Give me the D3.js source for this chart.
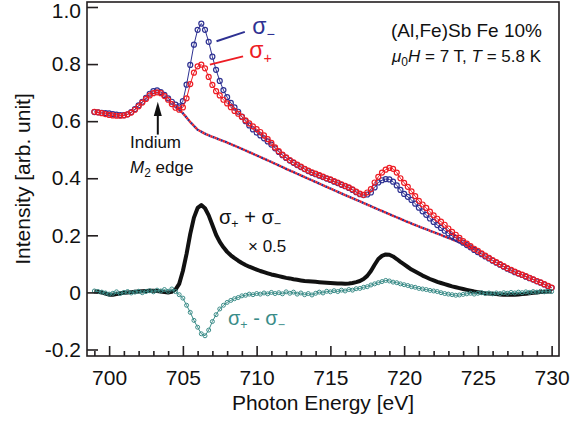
<!DOCTYPE html>
<html>
<head>
<meta charset="utf-8">
<script src="https://cdn.jsdelivr.net/npm/d3@7"></script>
<style>
  body { margin: 0; background: #fff; }
  svg text { font-family: "Liberation Sans", Arial, Helvetica, sans-serif; }
</style>
</head>
<body>
<div id="chart"></div>
<script>
// photon energy grid (eV)
const energy = [
  699, 699.25, 699.5, 699.75, 700, 700.25, 700.5, 700.75, 701, 701.25, 701.5, 701.75,
  702, 702.25, 702.5, 702.75, 703, 703.25, 703.5, 703.75, 704, 704.25, 704.5, 704.75,
  705, 705.25, 705.5, 705.75, 706, 706.25, 706.5, 706.75, 707, 707.25, 707.5, 707.75,
  708, 708.25, 708.5, 708.75, 709, 709.25, 709.5, 709.75, 710, 710.25, 710.5, 710.75,
  711, 711.25, 711.5, 711.75, 712, 712.25, 712.5, 712.75, 713, 713.25, 713.5, 713.75,
  714, 714.25, 714.5, 714.75, 715, 715.25, 715.5, 715.75, 716, 716.25, 716.5, 716.75,
  717, 717.25, 717.5, 717.75, 718, 718.25, 718.5, 718.75, 719, 719.25, 719.5, 719.75,
  720, 720.25, 720.5, 720.75, 721, 721.25, 721.5, 721.75, 722, 722.25, 722.5, 722.75,
  723, 723.25, 723.5, 723.75, 724, 724.25, 724.5, 724.75, 725, 725.25, 725.5, 725.75,
  726, 726.25, 726.5, 726.75, 727, 727.25, 727.5, 727.75, 728, 728.25, 728.5, 728.75,
  729, 729.25, 729.5, 729.75, 730
];

// sigma minus (blue)
const sigmaMinus = [
  0.632, 0.631, 0.629, 0.628, 0.627, 0.625, 0.623, 0.621, 0.621, 0.624, 0.632, 0.642,
  0.655, 0.668, 0.682, 0.696, 0.705, 0.708, 0.702, 0.692, 0.680, 0.668, 0.658, 0.652,
  0.670, 0.728, 0.797, 0.868, 0.920, 0.942, 0.920, 0.878, 0.826, 0.780, 0.741, 0.709,
  0.684, 0.664, 0.648, 0.633, 0.616, 0.600, 0.585, 0.571, 0.560, 0.550, 0.540, 0.529,
  0.518, 0.505, 0.492, 0.481, 0.471, 0.462, 0.454, 0.446, 0.439, 0.432, 0.425, 0.419,
  0.414, 0.409, 0.404, 0.399, 0.394, 0.388, 0.383, 0.377, 0.372, 0.366, 0.359, 0.351,
  0.344, 0.341, 0.343, 0.350, 0.368, 0.385, 0.393, 0.397, 0.396, 0.388, 0.375, 0.359,
  0.345, 0.335, 0.324, 0.311, 0.297, 0.284, 0.272, 0.259, 0.247, 0.236, 0.226, 0.216,
  0.207, 0.198, 0.191, 0.183, 0.174, 0.166, 0.158, 0.149, 0.141, 0.134, 0.126, 0.119,
  0.111, 0.104, 0.097, 0.090, 0.083, 0.077, 0.071, 0.066, 0.061, 0.055, 0.050, 0.045,
  0.039, 0.034, 0.028, 0.022, 0.016
];

// sigma plus (red)
const sigmaPlus = [
  0.633, 0.631, 0.628, 0.625, 0.622, 0.620, 0.619, 0.619, 0.620, 0.624, 0.630, 0.640,
  0.652, 0.665, 0.678, 0.690, 0.698, 0.701, 0.698, 0.688, 0.675, 0.660, 0.647, 0.640,
  0.648, 0.680, 0.730, 0.770, 0.792, 0.798, 0.785, 0.755, 0.727, 0.705, 0.690, 0.675,
  0.662, 0.649, 0.636, 0.626, 0.615, 0.603, 0.592, 0.582, 0.572, 0.562, 0.550, 0.537,
  0.524, 0.508, 0.495, 0.483, 0.473, 0.464, 0.456, 0.448, 0.441, 0.433, 0.427, 0.421,
  0.416, 0.411, 0.406, 0.400, 0.396, 0.390, 0.385, 0.379, 0.373, 0.368, 0.361, 0.353,
  0.346, 0.342, 0.350, 0.362, 0.385, 0.405, 0.420, 0.430, 0.436, 0.433, 0.420, 0.400,
  0.384, 0.370, 0.354, 0.337, 0.321, 0.308, 0.296, 0.283, 0.270, 0.258, 0.248, 0.237,
  0.224, 0.212, 0.202, 0.191, 0.180, 0.171, 0.162, 0.153, 0.146, 0.137, 0.129, 0.121,
  0.113, 0.106, 0.099, 0.092, 0.085, 0.079, 0.073, 0.067, 0.062, 0.057, 0.051, 0.046,
  0.040, 0.035, 0.029, 0.023, 0.017
];

// (sigma+ + sigma-) x 0.5, background removed (black)
const sumSignal = [
  0.004, 0.002, 0.000, -0.004, -0.008, -0.008, -0.006, -0.003, -0.001, 0.000, 0.001, 0.002,
  0.003, 0.004, 0.005, 0.006, 0.006, 0.005, 0.003, 0.001, 0.000, 0.002, 0.010, 0.030,
  0.075, 0.135, 0.205, 0.262, 0.296, 0.306, 0.295, 0.270, 0.236, 0.202, 0.177, 0.158,
  0.142, 0.130, 0.120, 0.111, 0.103, 0.096, 0.090, 0.085, 0.080, 0.075, 0.071, 0.067,
  0.063, 0.060, 0.057, 0.054, 0.051, 0.049, 0.046, 0.044, 0.042, 0.040, 0.039, 0.038,
  0.037, 0.036, 0.035, 0.034, 0.033, 0.032, 0.031, 0.031, 0.030, 0.031, 0.033, 0.036,
  0.040, 0.047, 0.058, 0.075, 0.097, 0.117, 0.128, 0.133, 0.132, 0.126, 0.117, 0.107,
  0.098, 0.089, 0.080, 0.073, 0.066, 0.059, 0.053, 0.047, 0.042, 0.037, 0.033, 0.029,
  0.025, 0.021, 0.018, 0.015, 0.012, 0.009, 0.006, 0.003, 0.001, -0.001, -0.003, -0.004,
  -0.005, -0.006, -0.007, -0.008, -0.008, -0.008, -0.008, -0.007, -0.006, -0.005, -0.003, -0.001,
  0.000, 0.001, 0.002, 0.003, 0.003
];

// sigma+ - sigma- (teal)
const diffSignal = [
  0.005, 0.003, 0.001, -0.002, -0.006, -0.003, 0.002, -0.004, 0.000, 0.003, -0.002, 0.001,
  0.004, -0.001, 0.003, 0.006, 0.002, 0.008, 0.005, 0.010, 0.004, 0.012, 0.003, -0.008,
  -0.020, -0.045, -0.070, -0.098, -0.122, -0.145, -0.152, -0.132, -0.102, -0.078, -0.058, -0.045,
  -0.035, -0.028, -0.022, -0.018, -0.012, -0.010, -0.006, -0.008, -0.004, -0.006, -0.002, -0.005,
  0.000, -0.004, -0.001, -0.005, 0.002, -0.003, 0.001, -0.006, -0.002, -0.008, -0.004, -0.009,
  -0.003, 0.001, -0.002, 0.004, 0.002, 0.006, 0.003, 0.008, 0.005, 0.010, 0.008, 0.013,
  0.014, 0.018, 0.020, 0.026, 0.030, 0.034, 0.038, 0.042, 0.040, 0.036, 0.034, 0.030,
  0.027, 0.024, 0.020, 0.018, 0.014, 0.012, 0.010, 0.007, 0.005, 0.003, -0.001, -0.004,
  -0.006, -0.008, -0.010, -0.009, -0.007, -0.005, -0.003, -0.006, -0.003, -0.001, -0.004, -0.002,
  -0.005, -0.002, -0.004, -0.001, -0.003, 0.000, -0.002, 0.001, -0.001, 0.002, 0.000, 0.003,
  0.001, 0.004, 0.002, 0.004, 0.003
];

// step-like background under the sigma spectra (dotted)
const bgEnergy = [704.5, 705, 705.5, 706, 706.5, 707, 707.5, 708, 709, 710, 711, 712, 713,
  714, 715, 716, 717, 718, 719, 720, 721, 722, 723, 724, 725];
const bgValue = [0.650, 0.628, 0.597, 0.570, 0.556, 0.545, 0.535, 0.525, 0.503, 0.480, 0.457,
  0.433, 0.410, 0.387, 0.364, 0.341, 0.319, 0.296, 0.274, 0.252, 0.231, 0.211, 0.191, 0.170, 0.149];

const majorTicks = [700, 705, 710, 715, 720, 725, 730];
const minorTicks = [699, 701, 702, 703, 704, 706, 707, 708, 709, 711, 712, 713, 714, 716, 717,
  718, 719, 721, 722, 723, 724, 726, 727, 728, 729];
const yTicks = [-0.2, 0, 0.2, 0.4, 0.6, 0.8, 1.0];

const colors = { minus: "#2e3192", plus: "#ed1c24", sum: "#111111", diff: "#3a8c88", frame: "#231f20" };

const width = 570, height = 424;
const margin = { top: 2, right: 11, bottom: 68, left: 87 };

const svg = d3.select("#chart").append("svg")
  .attr("width", width)
  .attr("height", height);

const x = d3.scaleLinear().domain([698.5, 730.5]).range([margin.left, width - margin.right]);
const y = d3.scaleLinear().domain([-0.2228, 1.0175]).range([height - margin.bottom, margin.top]);

const pts = (ys, xs) => (xs || energy).map((e, i) => ({ x: e, y: ys[i] }));
const line = d3.line().x(d => x(d.x)).y(d => y(d.y));

const plot = svg.append("g");

// background lines, alternating blue / red dots
plot.append("path").attr("d", line(pts(bgValue, bgEnergy)))
  .attr("fill", "none").attr("stroke", colors.minus).attr("stroke-width", 2.4)
  .attr("stroke-dasharray", "2.2,2.2");
plot.append("path").attr("d", line(pts(bgValue, bgEnergy)))
  .attr("fill", "none").attr("stroke", colors.plus).attr("stroke-width", 2.4)
  .attr("stroke-dasharray", "2.2,2.2").attr("stroke-dashoffset", 2.2);

function drawSeries(values, color, r, sw) {
  const data = pts(values);
  plot.append("path").attr("d", line(data))
    .attr("fill", "none").attr("stroke", color).attr("stroke-width", 1);
  plot.append("g").selectAll("circle")
    .data(data)
    .enter().append("circle")
    .attr("cx", d => x(d.x))
    .attr("cy", d => y(d.y))
    .attr("r", r)
    .attr("fill", "none")
    .attr("stroke", color)
    .attr("stroke-width", sw);
}

drawSeries(sigmaMinus, colors.minus, 2.5, 1.2);
drawSeries(sigmaPlus, colors.plus, 2.5, 1.2);

plot.append("path").attr("d", line(pts(sumSignal)))
  .attr("fill", "none").attr("stroke", colors.sum).attr("stroke-width", 4)
  .attr("stroke-linejoin", "round");

drawSeries(diffSignal, colors.diff, 2, 1);

// axes
const xMajor = d3.axisBottom(x).tickValues(majorTicks).tickSize(-10).tickPadding(14).tickFormat(d3.format("d"));
const xMinor = d3.axisBottom(x).tickValues(minorTicks).tickSize(-5).tickFormat("");
const yAxis = d3.axisLeft(y).tickValues(yTicks).tickSize(-11).tickPadding(6)
  .tickFormat(d => d === 0 ? "0" : d.toFixed(1));

function styleAxis(g) {
  g.select(".domain").remove();
  g.selectAll(".tick line").attr("stroke", colors.frame).attr("stroke-width", 1.6);
  g.selectAll(".tick text").attr("fill", "#111").style("font-size", "21px");
}

svg.append("g").attr("transform", `translate(0,${height - margin.bottom})`).call(xMinor).call(styleAxis);
svg.append("g").attr("transform", `translate(0,${height - margin.bottom})`).call(xMajor).call(styleAxis);
const yG = svg.append("g").attr("transform", `translate(${margin.left},0)`).call(yAxis).call(styleAxis);
// top label sits a little below its tick so it stays inside the page
yG.selectAll(".tick text").filter(d => d === 1.0).attr("y", 4);

svg.append("rect")
  .attr("x", margin.left).attr("y", margin.top)
  .attr("width", width - margin.left - margin.right)
  .attr("height", height - margin.top - margin.bottom)
  .attr("fill", "none").attr("stroke", colors.frame).attr("stroke-width", 1.6);

// axis titles
svg.append("text")
  .attr("x", (margin.left + width - margin.right) / 2).attr("y", 410)
  .attr("text-anchor", "middle").style("font-size", "21px").attr("fill", "#111")
  .text("Photon Energy [eV]");
svg.append("text")
  .attr("transform", `translate(30,${(margin.top + height - margin.bottom) / 2}) rotate(-90)`)
  .attr("text-anchor", "middle").style("font-size", "21px").attr("fill", "#111")
  .text("Intensity [arb. unit]");

// sample info
svg.append("text").attr("x", 542).attr("y", 37).attr("text-anchor", "end")
  .style("font-size", "19px").attr("fill", "#111").text("(Al,Fe)Sb Fe 10%");
const cond = svg.append("text").attr("x", 541).attr("y", 62).attr("text-anchor", "end")
  .style("font-size", "17px").attr("fill", "#111");
cond.append("tspan").style("font-style", "italic").text("μ");
cond.append("tspan").attr("dy", 4).style("font-size", "12px").text("0");
cond.append("tspan").attr("dy", -4).style("font-style", "italic").text("H");
cond.append("tspan").text(" = 7 T, ");
cond.append("tspan").style("font-style", "italic").text("T");
cond.append("tspan").text(" = 5.8 K");

// sigma labels with leader lines
function sigmaLabel(ex, v, sub, color, size) {
  const t = svg.append("text").attr("x", x(ex)).attr("y", y(v))
    .style("font-size", size + "px").attr("fill", color);
  t.append("tspan").text("σ");
  t.append("tspan").attr("dy", size * 0.22).style("font-size", (size * 0.62) + "px").text(sub);
  return t;
}
svg.append("line")
  .attr("x1", x(707.28)).attr("y1", y(0.880)).attr("x2", x(709.2)).attr("y2", y(0.913))
  .attr("stroke", colors.minus).attr("stroke-width", 2);
sigmaLabel(709.7, 0.905, "−", colors.minus, 23);
svg.append("line")
  .attr("x1", x(706.83)).attr("y1", y(0.798)).attr("x2", x(709.08)).attr("y2", y(0.827))
  .attr("stroke", colors.plus).attr("stroke-width", 2);
sigmaLabel(709.5, 0.823, "+", colors.plus, 23);

// Indium edge arrow
svg.append("line")
  .attr("x1", x(703.3)).attr("y1", y(0.553)).attr("x2", x(703.3)).attr("y2", y(0.62))
  .attr("stroke", "#111").attr("stroke-width", 2);
svg.append("path")
  .attr("d", `M${x(703.3)},${y(0.668)} L${x(703.3) - 4},${y(0.618)} L${x(703.3) + 4},${y(0.618)} Z`)
  .attr("fill", "#111");
svg.append("text").attr("x", 130).attr("y", 148).style("font-size", "17px").attr("fill", "#111").text("Indium");
const m2 = svg.append("text").attr("x", 130).attr("y", 173).style("font-size", "17px").attr("fill", "#111");
m2.append("tspan").style("font-style", "italic").text("M");
m2.append("tspan").attr("dy", 4).style("font-size", "12px").text("2");
m2.append("tspan").attr("dy", -4).text(" edge");

// sum / difference labels
function comboLabel(px, py, op, color, size) {
  const t = svg.append("text").attr("x", px).attr("y", py).style("font-size", size + "px").attr("fill", color);
  const s = size * 0.62, d = size * 0.22;
  t.append("tspan").text("σ");
  t.append("tspan").attr("dy", d).style("font-size", s + "px").text("+");
  t.append("tspan").attr("dy", -d).text(" " + op + " σ");
  t.append("tspan").attr("dy", d).style("font-size", s + "px").text("−");
}
comboLabel(219, 223.5, "+", colors.sum, 20);
svg.append("text").attr("x", 248).attr("y", 251.5).style("font-size", "17px").attr("fill", "#111").text("× 0.5");
comboLabel(228, 325, "-", colors.diff, 20);
</script>
</body>
</html>
